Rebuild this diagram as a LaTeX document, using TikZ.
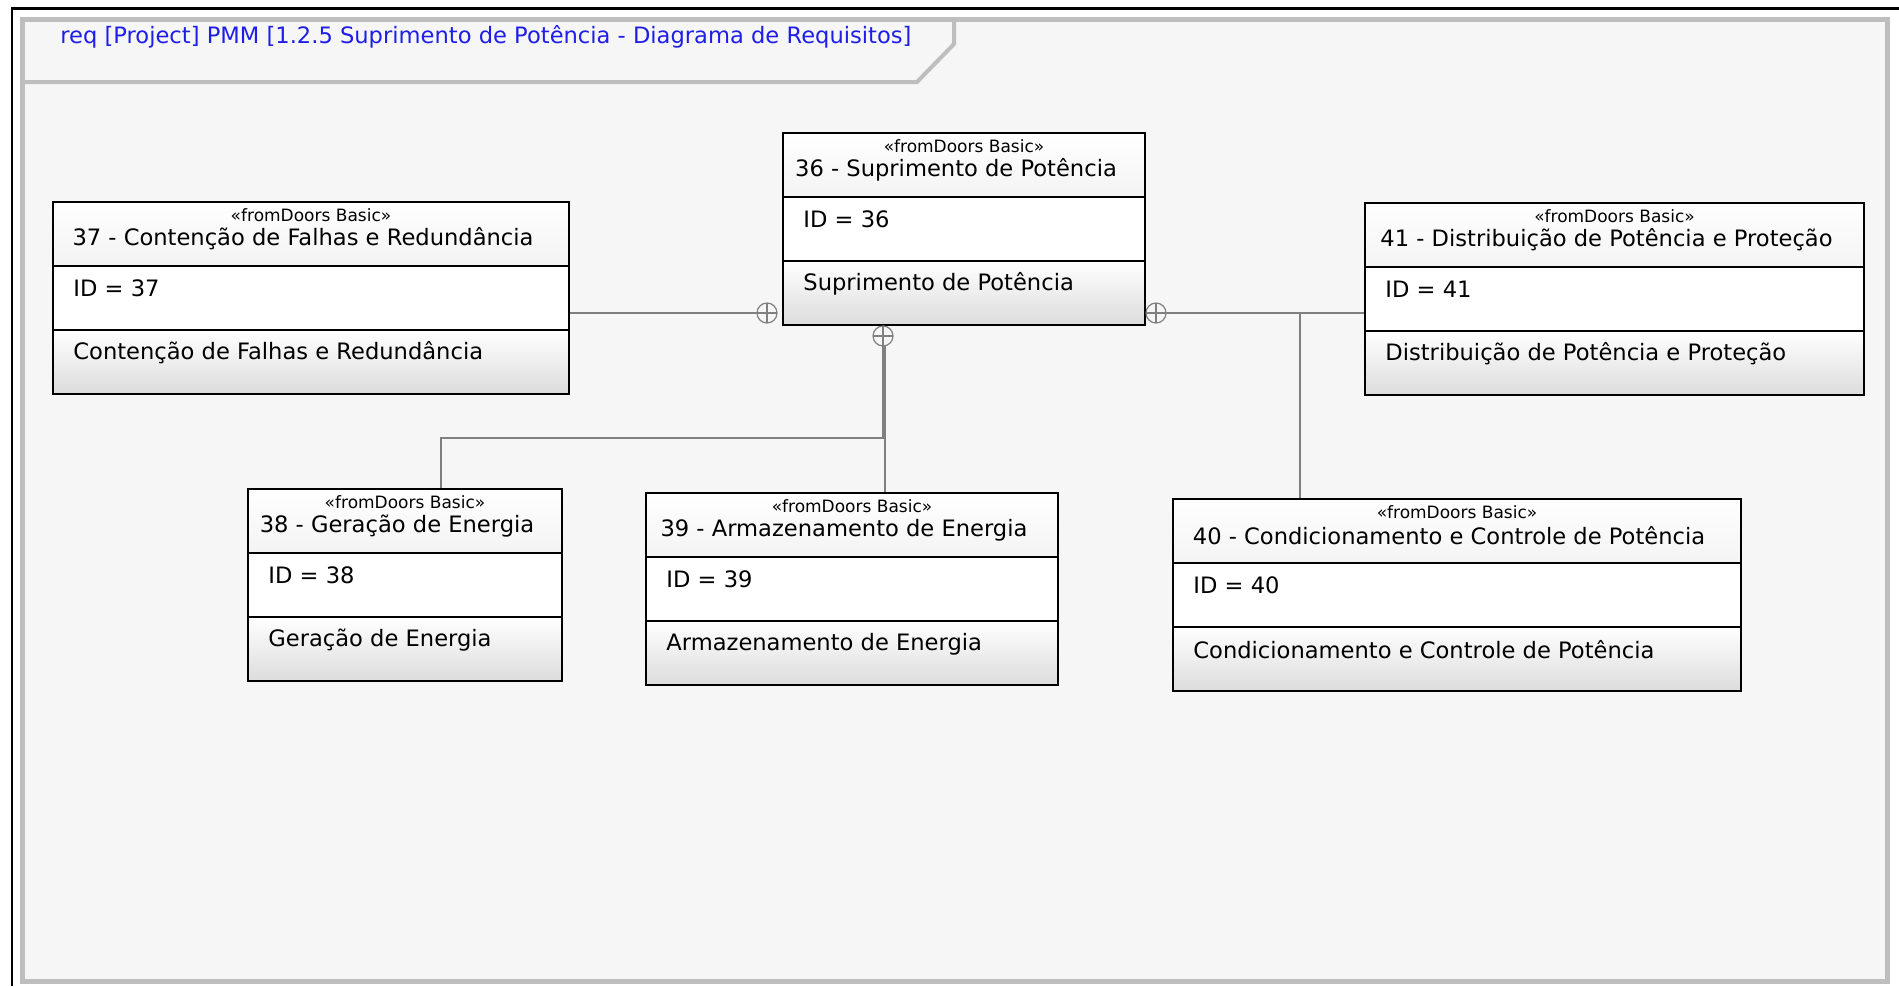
\documentclass[tikz,border=0pt]{standalone}
\usepackage{fontspec}
\setmainfont{DejaVu Sans}
\usetikzlibrary{positioning}
\definecolor{canvas}{HTML}{F6F6F6}
\definecolor{framegray}{HTML}{BEBEBE}
\definecolor{linkgray}{HTML}{808080}
\definecolor{titleblue}{HTML}{1E1EE6}
\definecolor{hdrgray}{HTML}{DCDCDC}

\begin{document}
\begin{tikzpicture}[x=0.5pt,y=-0.5pt,
  req/.style={draw=black, line width=1pt, fill=white, inner sep=0pt, anchor=north west, minimum height=96pt,
    path picture={
      \shade[top color=white, bottom color=hdrgray] (path picture bounding box.north west) rectangle ([yshift=-32pt]path picture bounding box.north east);
      \shade[top color=white, bottom color=hdrgray] ([yshift=32pt]path picture bounding box.south west) rectangle (path picture bounding box.south east);
      \draw[line width=1pt] ([yshift=-32pt]path picture bounding box.north west) -- ([yshift=-32pt]path picture bounding box.north east)
        ([yshift=32pt]path picture bounding box.south west) -- ([yshift=32pt]path picture bounding box.south east);
    }},
  stereo/.style={font=\fontsize{8.5}{9}\selectfont, inner sep=0pt},
  ttl/.style={font=\fontsize{11.3}{13}\selectfont, inner sep=0pt},
  txt/.style={font=\fontsize{11.3}{13}\selectfont, inner sep=0pt, anchor=west},
  link/.style={draw=linkgray, line width=0.75pt},
  own/.style={circle, draw=linkgray, fill=canvas, line width=0.6pt, minimum size=10pt, inner sep=0pt,
    path picture={\draw[linkgray, line width=0.6pt] (path picture bounding box.north) -- (path picture bounding box.south)
      (path picture bounding box.west) -- (path picture bounding box.east);}}
]
\useasboundingbox (0,0) rectangle (1899,986);

  % frame of the diagram
  \fill[white] (0,0) rectangle (1899,986);
  \draw[black, line width=1.2pt] (12,986) -- (12,8.5) -- (1899,8.5);
  \draw[framegray, line width=2.5pt, fill=canvas] (22,19) rectangle (1887,981);
  \draw[framegray, line width=2pt] (22,82) -- (917,82) -- (954,44) -- (954,19);
  \node[anchor=west, text=titleblue, font=\fontsize{11.3}{13}\selectfont, inner sep=0pt] (diagtitle) at (60,37) {req [Project] PMM [1.2.5 Suprimento de Potência - Diagrama de Requisitos]};

  % 36
  \node[req, minimum width=181pt] (r36) at (782,132) {};
  \node[stereo] (r36s) at ([yshift=-7.25pt]r36.north) {«fromDoors Basic»};
  \node[ttl] (r36t) at ([xshift=-4pt,yshift=-19pt]r36.north) {36 - Suprimento de Potência};
  \node[txt] (r36i) at ([xshift=10.5pt,yshift=-43.5pt]r36.north west) {ID = 36};
  \node[txt] (r36d) at ([xshift=10.5pt,yshift=-76pt]r36.north west) {Suprimento de Potência};

  % 37
  \node[req, minimum width=258pt] (r37) at (52,201) {};
  \node[stereo] (r37s) at ([yshift=-7.25pt]r37.north) {«fromDoors Basic»};
  \node[ttl] (r37t) at ([xshift=-4pt,yshift=-19pt]r37.north) {37 - Contenção de Falhas e Redundância};
  \node[txt] (r37i) at ([xshift=10.5pt,yshift=-43.5pt]r37.north west) {ID = 37};
  \node[txt] (r37d) at ([xshift=10.5pt,yshift=-76pt]r37.north west) {Contenção de Falhas e Redundância};

  % 41
  \node[req, minimum width=249.5pt] (r41) at (1364,202) {};
  \node[stereo] (r41s) at ([yshift=-7.25pt]r41.north) {«fromDoors Basic»};
  \node[ttl] (r41t) at ([xshift=-4pt,yshift=-19pt]r41.north) {41 - Distribuição de Potência e Proteção};
  \node[txt] (r41i) at ([xshift=10.5pt,yshift=-43.5pt]r41.north west) {ID = 41};
  \node[txt] (r41d) at ([xshift=10.5pt,yshift=-76pt]r41.north west) {Distribuição de Potência e Proteção};

  % 38
  \node[req, minimum width=157pt] (r38) at (247,488) {};
  \node[stereo] (r38s) at ([yshift=-7.25pt]r38.north) {«fromDoors Basic»};
  \node[ttl] (r38t) at ([xshift=-4pt,yshift=-19pt]r38.north) {38 - Geração de Energia};
  \node[txt] (r38i) at ([xshift=10.5pt,yshift=-43.5pt]r38.north west) {ID = 38};
  \node[txt] (r38d) at ([xshift=10.5pt,yshift=-76pt]r38.north west) {Geração de Energia};

  % 39
  \node[req, minimum width=206pt] (r39) at (645,492) {};
  \node[stereo] (r39s) at ([yshift=-7.25pt]r39.north) {«fromDoors Basic»};
  \node[ttl] (r39t) at ([xshift=-4pt,yshift=-19pt]r39.north) {39 - Armazenamento de Energia};
  \node[txt] (r39i) at ([xshift=10.5pt,yshift=-43.5pt]r39.north west) {ID = 39};
  \node[txt] (r39d) at ([xshift=10.5pt,yshift=-76pt]r39.north west) {Armazenamento de Energia};

  % 40
  \node[req, minimum width=284pt] (r40) at (1172,498) {};
  \node[stereo] (r40s) at ([yshift=-7.25pt]r40.north) {«fromDoors Basic»};
  \node[ttl] (r40t) at ([xshift=-4pt,yshift=-19pt]r40.north) {40 - Condicionamento e Controle de Potência};
  \node[txt] (r40i) at ([xshift=10.5pt,yshift=-43.5pt]r40.north west) {ID = 40};
  \node[txt] (r40d) at ([xshift=10.5pt,yshift=-76pt]r40.north west) {Condicionamento e Controle de Potência};

  % containment links
  \coordinate (j40) at (1300,313);
  \coordinate (k38) at (441,438);
  \draw[link] (767,313) -- (767,313 -| r37.east);
  \draw[link] (1156,313) -- (1156,313 -| r41.west);
  \draw[link] (j40) -- (j40 |- r40.north);
  \draw[link] (883,336) -- (883,336 |- k38) -- (k38) -- (k38 |- r38.north);
  \draw[link] (885,336) -- (885,336 |- r39.north);
  \node[own] (o37) at (767,313) {};
  \node[own] (o41) at (1156,313) {};
  \node[own] (o3x) at (883,336) {};

\end{tikzpicture}
\end{document}
